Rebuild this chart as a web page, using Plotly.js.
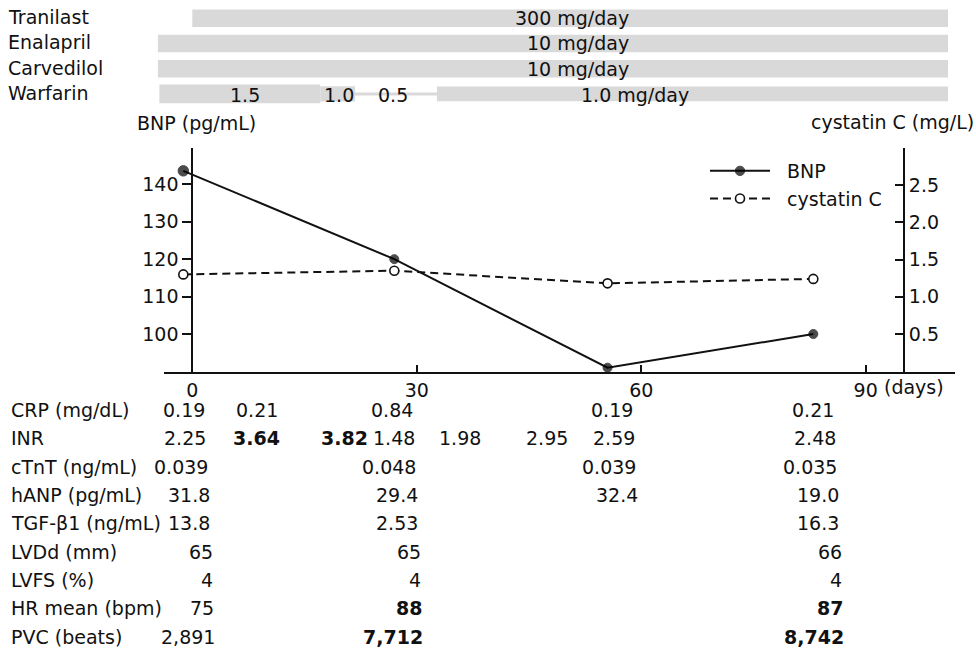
<!DOCTYPE html>
<html><head><meta charset="utf-8">
<script src="https://cdn.plot.ly/plotly-3.0.1.min.js"></script>
<style>html,body{margin:0;padding:0;background:#fff}#chart{width:976px;height:654px}</style>
</head><body><div id="chart"></div>
<script>
// ---------- drug timeline (days) ----------
const drugs = ['Tranilast', 'Enalapril', 'Carvedilol', 'Warfarin'];
const segDrug = ['Tranilast', 'Enalapril', 'Carvedilol', 'Warfarin', 'Warfarin', 'Warfarin', 'Warfarin'];
const segStart = [0, -4.6, -4.6, -4.4, 17.1, 21.75, 32.7];
const segEnd = [101, 101, 101, 17.1, 21.75, 32.7, 101];
const segDose = ['300 mg/day', '10 mg/day', '10 mg/day', '1.5', '1.0', '0.5', '1.0 mg/day'];

// ---------- measured series ----------
const days = [-1.2, 27, 55.5, 83];
const bnp = [143.6, 120, 91, 100];
const cystatinC = [1.30, 1.35, 1.18, 1.24];
const xTicks = [0, 30, 60, 90];
const bnpTicks = [100, 110, 120, 130, 140];
const cysTicks = [0.5, 1.0, 1.5, 2.0, 2.5];
const cysTickText = ['0.5', '1.0', '1.5', '2.0', '2.5'];

// ---------- table below the chart ----------
const rowLabels = ['CRP (mg/dL)', 'INR', 'cTnT (ng/mL)', 'hANP (pg/mL)', 'TGF-β1 (ng/mL)',
                   'LVDd (mm)', 'LVFS (%)', 'HR mean (bpm)', 'PVC (beats)'];
const crp   = ['0.19', '0.21', '', '0.84', '', '', '0.19', '0.21'];
const inr   = ['2.25', '3.64', '3.82', '1.48', '1.98', '2.95', '2.59', '2.48'];
const ctnt  = ['0.039', '', '', '0.048', '', '', '0.039', '0.035'];
const hanp  = ['31.8', '', '', '29.4', '', '', '32.4', '19.0'];
const tgf   = ['13.8', '', '', '2.53', '', '', '', '16.3'];
const lvdd  = ['65', '', '', '65', '', '', '', '66'];
const lvfs  = ['4', '', '', '4', '', '', '', '4'];
const hr    = ['75', '', '', '88', '', '', '', '87'];
const pvc   = ['2,891', '', '', '7,712', '', '', '', '8,742'];
const tableRows = [crp, inr, ctnt, hanp, tgf, lvdd, lvfs, hr, pvc];
const inrBold = [false, true, true, false, false, false, false, false];
const hrBold  = [false, false, false, true, false, false, false, true];
const pvcBold = [false, false, false, true, false, false, false, true];
const boldRows = [null, inrBold, null, null, null, null, null, hrBold, pvcBold];

// ---------- layout helpers (pixel geometry) ----------
const W = 976, H = 654;
const px = v => v / W;
const py = v => 1 - v / H;
const FONT = 'DejaVu Sans';
const FS = 19;
const INK = '#111111';
const NB = '\u00a0';
const dayPx = 7.482, day0Px = 192.3;
const toDay = p => (p - day0Px) / dayPx;

// dose label centres (px) & drug bar thickness (category units)
const doseLabelPx = [571.7, 577.5, 577.5, 245, 338.7, 393, 635];
const segThick = [0.69, 0.69, 0.69, 0.74, 0.6, 0.12, 0.58];

// table column right edges (px) and per-row drift, row centres
const colRight = [206.7, 280, 368.3, 415, 481.6, 568.3, 635, 836];
const rowShift = [0, 1.7, 3.3, 5, 5.3, 8.3, 8.3, 9.3, 10];
const rowY = rowLabels.map((_, i) => 410 + 28.33 * i);

const traces = [
  {
    type: 'bar', orientation: 'h',
    y: segDrug,
    base: segStart,
    x: segEnd.map((e, i) => e - segStart[i]),
    width: segThick,
    marker: {color: '#d9d9d9', line: {width: 0}},
    xaxis: 'x2', yaxis: 'y3',
    showlegend: false, hoverinfo: 'skip'
  },
  {
    type: 'scatter', mode: 'lines+markers', name: NB + NB + 'BNP',
    x: days, y: bnp,
    line: {color: INK, width: 2},
    marker: {color: '#000000', size: [10.5, 9, 9, 9], symbol: 'circle', line: {color: '#000000', width: 1}},
    xaxis: 'x', yaxis: 'y', cliponaxis: false
  },
  {
    type: 'scatter', mode: 'lines+markers', name: NB + NB + 'cystatin C',
    x: days, y: cystatinC,
    line: {color: INK, width: 2, dash: '8px,5px'},
    marker: {color: '#ffffff', size: 9, symbol: 'circle', line: {color: INK, width: 1.6}},
    xaxis: 'x', yaxis: 'y2', cliponaxis: false
  }
];

const annotations = [];
// drug names
drugs.forEach(d => annotations.push({
  text: d, xref: 'paper', yref: 'y3', x: px(6), y: d,
  xanchor: 'left', yanchor: 'middle', showarrow: false, yshift: 1,
  font: {family: FONT, size: FS, color: INK}
}));
// dose labels
segDose.forEach((t, i) => annotations.push({
  text: t, xref: 'x2', yref: 'y3', x: toDay(doseLabelPx[i]), y: segDrug[i],
  xanchor: 'center', yanchor: 'middle', showarrow: false, yshift: i >= 3 ? -1 : 0,
  font: {family: FONT, size: FS, color: INK}
}));
// axis titles
annotations.push({text: 'BNP (pg/mL)', xref: 'paper', yref: 'paper', x: px(196), y: py(123),
  xanchor: 'center', yanchor: 'middle', showarrow: false, font: {family: FONT, size: FS, color: INK}});
annotations.push({text: 'cystatin C (mg/L)', xref: 'paper', yref: 'paper', x: px(976), y: py(122),
  xanchor: 'right', yanchor: 'middle', showarrow: false, font: {family: FONT, size: FS, color: INK}});
annotations.push({text: '(days)', xref: 'paper', yref: 'paper', x: px(882), y: py(387),
  xanchor: 'left', yanchor: 'middle', showarrow: false, font: {family: FONT, size: FS, color: INK}});
// table
rowLabels.forEach((lab, r) => {
  annotations.push({text: lab, xref: 'paper', yref: 'paper', x: px(9), y: py(rowY[r]),
    xanchor: 'left', yanchor: 'middle', showarrow: false, font: {family: FONT, size: FS, color: INK}});
  tableRows[r].forEach((v, c) => {
    if (!v) return;
    const b = boldRows[r] && boldRows[r][c];
    annotations.push({text: b ? '<b>' + v + '</b>' : v, xref: 'paper', yref: 'paper',
      x: px(colRight[c] + rowShift[r]), y: py(rowY[r]),
      xanchor: 'right', yanchor: 'middle', showarrow: false,
      font: {family: FONT, size: FS, color: INK}});
  });
});

const layout = {
  width: W, height: H,
  margin: {l: 0, r: 0, t: 0, b: 0, pad: 0},
  paper_bgcolor: '#ffffff', plot_bgcolor: 'rgba(0,0,0,0)',
  font: {family: FONT, size: FS, color: INK},
  barmode: 'overlay',
  showlegend: true,
  legend: {
    x: px(705), y: py(152), xanchor: 'left', yanchor: 'top',
    bgcolor: 'rgba(0,0,0,0)', borderwidth: 0,
    font: {family: FONT, size: FS, color: INK},
    itemwidth: 60, tracegroupgap: 0
  },
  xaxis: {
    domain: [px(164), px(955)], range: [toDay(164), toDay(955)],
    anchor: 'y', showline: true, linecolor: INK, linewidth: 2,
    ticks: 'inside', ticklen: 7, tickwidth: 2, tickcolor: INK,
    tickmode: 'array', tickvals: xTicks,
    showgrid: false, zeroline: false, fixedrange: true,
    tickfont: {family: FONT, size: FS, color: INK}
  },
  yaxis: {
    domain: [py(372), py(148)], range: [89.85, 149.7],
    anchor: 'free', position: px(192.3),
    showline: true, linecolor: INK, linewidth: 2,
    ticks: 'outside', ticklen: 9, tickwidth: 2, tickcolor: INK,
    tickmode: 'array', tickvals: bnpTicks,
    showgrid: false, zeroline: false, fixedrange: true,
    tickfont: {family: FONT, size: FS, color: INK}
  },
  yaxis2: {
    overlaying: 'y', side: 'right', anchor: 'free', position: px(904),
    range: [-0.01, 2.997],
    showline: true, linecolor: INK, linewidth: 2,
    ticks: 'inside', ticklen: 8, tickwidth: 2, tickcolor: INK,
    tickmode: 'array', tickvals: cysTicks, ticktext: cysTickText,
    showgrid: false, zeroline: false, fixedrange: true,
    tickfont: {family: FONT, size: FS, color: INK}
  },
  xaxis2: {
    domain: [0, 1], range: [toDay(0), toDay(W)], anchor: 'y3',
    visible: false, fixedrange: true
  },
  yaxis3: {
    domain: [py(106.5), py(5.7)], type: 'category', categoryorder: 'array', categoryarray: drugs,
    range: [3.5, -0.5], anchor: 'x2', visible: false, fixedrange: true
  },
  annotations: annotations
};

Plotly.newPlot('chart', traces, layout, {displayModeBar: false, staticPlot: true});
</script>
</body></html>
